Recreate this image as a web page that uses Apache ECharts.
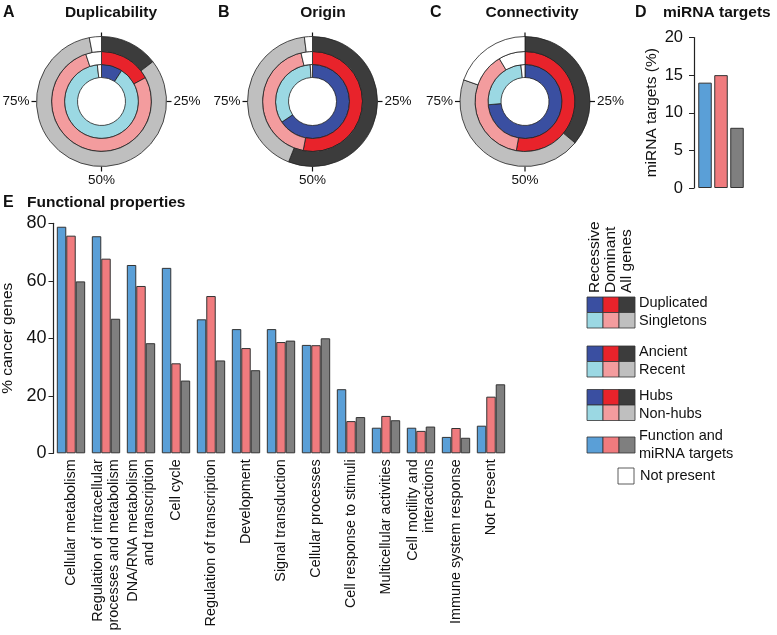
<!DOCTYPE html>
<html>
<head>
<meta charset="utf-8">
<script src="https://cdn.jsdelivr.net/npm/echarts@6/dist/echarts.min.js"></script>
<style>
  html, body { margin: 0; padding: 0; background: #fff; }
  #main { width: 777px; height: 635px; }
</style>
</head>
<body>
<div id="main"></div>
<script>
// panel E: functional properties (% cancer genes)
const categories = [
  'Cellular metabolism',
  'Regulation of intracellular\nprocesses and metabolism',
  'DNA/RNA metabolism\nand transcription',
  'Cell cycle',
  'Regulation of transcription',
  'Development',
  'Signal transduction',
  'Cellular processes',
  'Cell response to stimuli',
  'Multicellular activities',
  'Cell motility and\ninteractions',
  'Immune system response',
  'Not Present'
];
const recessive = [78.8, 75.5, 65.5, 64.5, 46.6, 43.2, 43.2, 37.7, 22.3, 8.9, 8.9, 5.7, 9.6];
const dominant = [75.7, 67.7, 58.2, 31.3, 54.7, 36.6, 38.7, 37.6, 11.2, 13.0, 7.8, 8.8, 19.7];
const allGenes = [59.8, 46.8, 38.3, 25.3, 32.3, 28.9, 39.2, 40.0, 12.6, 11.5, 9.3, 5.4, 24.0];
const yTicksE = [0, 20, 40, 60, 80];

// panel D: miRNA targets (%)
const mirnaGroups = ['Recessive', 'Dominant', 'All genes'];
const mirnaTargets = [14, 15, 8];

// panels A-C: [dark, light, not present] in %
const dupRecessive = [9.2, 89.0, 1.8];
const dupDominant = [17.1, 77.8, 5.1];
const dupAll = [14.5, 82.5, 3.0];
const originRecessive = [65.6, 33.4, 1.0];
const originDominant = [53.0, 43.3, 3.7];
const originAll = [56.0, 42.0, 2.0];
const connRecessive = [73.6, 24.6, 1.8];
const connDominant = [52.8, 38.6, 8.6];
const connAll = [36.0, 44.4, 19.6];
const pctLabels = ['25%', '50%', '75%'];

const legendRows = [['Duplicated', 'Singletons'], ['Ancient', 'Recent'], ['Hubs', 'Non-hubs']];

const FONT = '"Liberation Sans", Arial, sans-serif';
const darkCols = ['#3a4fa1', '#e8232b', '#3c3c3c'];
const lightCols = ['#9bd8e3', '#f39c9e', '#bfbfbf'];
const barCols = ['#5a9fd7', '#f07b7e', '#7f7f7f'];

const chart = echarts.init(document.getElementById('main'));

const donuts = [
  { cx: 101.5, title: 'Duplicability', tx: 111, letter: 'A', lx: 3, rings: [dupRecessive, dupDominant, dupAll] },
  { cx: 312.5, title: 'Origin', tx: 323, letter: 'B', lx: 218, rings: [originRecessive, originDominant, originAll] },
  { cx: 525, title: 'Connectivity', tx: 532, letter: 'C', lx: 430, rings: [connRecessive, connDominant, connAll] }
];
const cy = 101.5;
const radii = [[24, 37], [37, 50], [50, 65]];

const series = [];
const graphic = [];

donuts.forEach(d => {
  d.rings.forEach((vals, i) => {
    series.push({
      type: 'pie',
      center: [d.cx, cy],
      radius: radii[i],
      startAngle: 90,
      clockwise: true,
      silent: true,
      label: { show: false },
      labelLine: { show: false },
      itemStyle: { borderColor: '#222', borderWidth: 0.8 },
      data: vals.map((v, k) => ({
        value: v,
        itemStyle: { color: k === 0 ? darkCols[i] : k === 1 ? lightCols[i] : '#ffffff' }
      }))
    });
  });
  const line = (x1, y1, x2, y2) => ({
    type: 'line', shape: { x1, y1, x2, y2 }, style: { stroke: '#111', lineWidth: 1.2 }
  });
  const txt = (x, y, text, align, va) => ({
    type: 'text', x, y,
    style: { text, font: '13.5px ' + FONT, fill: '#111', align, verticalAlign: va }
  });
  graphic.push(
    line(d.cx, cy - 69, d.cx, cy - 50),
    line(d.cx + 65, cy, d.cx + 70, cy),
    line(d.cx - 70, cy, d.cx - 65, cy),
    line(d.cx, cy + 65, d.cx, cy + 70),
    txt(d.cx + 72, cy, pctLabels[0], 'left', 'middle'),
    txt(d.cx, cy + 72, pctLabels[1], 'center', 'top'),
    txt(d.cx - 72, cy, pctLabels[2], 'right', 'middle'),
    { type: 'text', x: d.lx, y: 13, style: { text: d.letter, font: 'bold 16px ' + FONT, fill: '#111', verticalAlign: 'middle' } },
    { type: 'text', x: d.tx, y: 13, style: { text: d.title, font: 'bold 15.5px ' + FONT, fill: '#111', align: 'center', verticalAlign: 'middle' } }
  );
});

// titles D and E
graphic.push(
  { type: 'text', x: 635, y: 13, style: { text: 'D', font: 'bold 16px ' + FONT, fill: '#111', verticalAlign: 'middle' } },
  { type: 'text', x: 663, y: 13, style: { text: 'miRNA targets', font: 'bold 15.5px ' + FONT, fill: '#111', verticalAlign: 'middle' } },
  { type: 'text', x: 3, y: 203, style: { text: 'E', font: 'bold 16px ' + FONT, fill: '#111', verticalAlign: 'middle' } },
  { type: 'text', x: 27, y: 203, style: { text: 'Functional properties', font: 'bold 15.5px ' + FONT, fill: '#111', verticalAlign: 'middle' } }
);

// legend
const colX = [587, 603, 619];
mirnaGroups.forEach((g, i) => {
  graphic.push({
    type: 'text', x: colX[i] + 8, y: 293, rotation: Math.PI / 2,
    style: { text: g, font: '15.5px ' + FONT, fill: '#111', align: 'left', verticalAlign: 'middle' }
  });
});
const groupTops = [297, 346, 389.5];
const cell = (x, y, h, color) => ({
  type: 'rect', shape: { x, y, width: 16, height: h },
  style: { fill: color, stroke: '#333', lineWidth: 0.8 }
});
groupTops.forEach((top, gi) => {
  for (let i = 0; i < 3; i++) {
    graphic.push(cell(colX[i], top, 15.5, darkCols[i]));
    graphic.push(cell(colX[i], top + 15.5, 15.5, lightCols[i]));
  }
  legendRows[gi].forEach((t, r) => {
    graphic.push({
      type: 'text', x: 639, y: top + 6 + r * 18,
      style: { text: t, font: '14.5px ' + FONT, fill: '#111', verticalAlign: 'middle' }
    });
  });
});
for (let i = 0; i < 3; i++) graphic.push(cell(colX[i], 437, 16, barCols[i]));
graphic.push(
  { type: 'text', x: 639, y: 436, style: { text: 'Function and', font: '14.5px ' + FONT, fill: '#111', verticalAlign: 'middle' } },
  { type: 'text', x: 639, y: 454, style: { text: 'miRNA targets', font: '14.5px ' + FONT, fill: '#111', verticalAlign: 'middle' } },
  { type: 'rect', shape: { x: 618, y: 468, width: 16, height: 16 }, style: { fill: '#fff', stroke: '#333', lineWidth: 0.8 } },
  { type: 'text', x: 640, y: 476, style: { text: 'Not present', font: '14.5px ' + FONT, fill: '#111', verticalAlign: 'middle' } }
);

// panel D bars
series.push({
  type: 'bar',
  xAxisIndex: 0,
  yAxisIndex: 0,
  barWidth: 13.5,
  silent: true,
  data: mirnaTargets.map((v, i) => ({ value: v, itemStyle: { color: barCols[i] } })),
  itemStyle: { borderColor: '#333', borderWidth: 1 }
});

// panel E bars
[recessive, dominant, allGenes].forEach((vals, i) => {
  series.push({
    type: 'bar',
    xAxisIndex: 1,
    yAxisIndex: 1,
    barGap: '0%',
    barCategoryGap: '19%',
    silent: true,
    data: vals,
    itemStyle: { color: barCols[i], borderColor: '#333', borderWidth: 1 }
  });
});

const axisText = { color: '#111', fontFamily: FONT };

const option = {
  animation: false,
  backgroundColor: '#fff',
  textStyle: { fontFamily: FONT },
  grid: [
    { left: 697, top: 37.5, width: 48, height: 150.5, outerBoundsMode: 'none' },
    { left: 53.5, top: 223.3, width: 455, height: 230, outerBoundsMode: 'none' }
  ],
  xAxis: [
    {
      type: 'category', gridIndex: 0, data: mirnaGroups,
      axisLine: { show: false }, axisTick: { show: false }, axisLabel: { show: false }
    },
    {
      type: 'category', gridIndex: 1, data: categories,
      axisLine: { show: false }, axisTick: { show: false },
      axisLabel: { ...axisText, rotate: 90, interval: 0, fontSize: 14.4, margin: 6, lineHeight: 16 }
    }
  ],
  yAxis: [
    {
      type: 'value', gridIndex: 0, min: 0, max: 20, interval: 5, offset: 3,
      name: 'miRNA targets (%)', nameLocation: 'middle', nameGap: 34,
      nameTextStyle: { ...axisText, fontSize: 15.5 },
      axisLine: { show: true, lineStyle: { color: '#222', width: 1.2 } },
      axisTick: { show: true, length: 5, lineStyle: { color: '#222' } },
      axisLabel: { ...axisText, fontSize: 16.5, margin: 11 },
      splitLine: { show: false }
    },
    {
      type: 'value', gridIndex: 1, min: yTicksE[0], max: yTicksE[yTicksE.length - 1], interval: 20,
      name: '% cancer genes', nameLocation: 'middle', nameGap: 30,
      nameTextStyle: { ...axisText, fontSize: 15.5 },
      axisLine: { show: true, lineStyle: { color: '#222', width: 1.2 } },
      axisTick: { show: true, length: 5, lineStyle: { color: '#222' } },
      axisLabel: { ...axisText, fontSize: 18, margin: 7 },
      splitLine: { show: false }
    }
  ],
  series,
  graphic
};

chart.setOption(option);
</script>
</body>
</html>
